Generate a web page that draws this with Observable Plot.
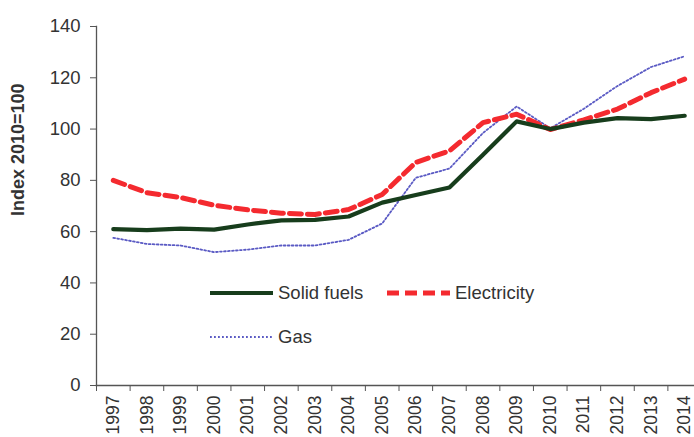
<!DOCTYPE html>
<html><head><meta charset="utf-8">
<script src="https://cdn.jsdelivr.net/npm/d3@7"></script>
<script src="https://cdn.jsdelivr.net/npm/@observablehq/plot@0.6"></script>
<style>
body{margin:0;background:#fff;font-family:"Liberation Sans",Arial,sans-serif;}
#wrap{position:relative;width:694px;height:437px;overflow:hidden;}
#wrap svg.legend{position:absolute;left:0;top:0;}
</style></head><body><div id="wrap"></div>
<script>
const years = [1997,1998,1999,2000,2001,2002,2003,2004,2005,2006,2007,2008,2009,2010,2011,2012,2013,2014];
const solidFuels = [61,60.6,61.2,60.8,62.8,64.4,64.6,65.9,71.3,74.3,77.2,90,103,100,102.5,104.3,103.9,105.2];
const electricity = [80,75.2,73.3,70.3,68.5,67.2,66.7,68.6,74.5,87,91.5,102.5,105.8,99.8,103.6,107.8,114.2,119.5];
const gas = [57.6,55.2,54.6,52,53,54.6,54.6,56.8,63.2,81,84.6,98.5,108.8,100.3,107.9,116.8,124.2,128.4];
const seriesNames = ["Solid fuels","Electricity","Gas"];
const yTicks = [0,20,40,60,80,100,120,140];
const yLabel = "Index 2010=100";

const styles = {
  "Solid fuels": {stroke:"#173d1c", strokeWidth:4.2, strokeDasharray:null},
  "Electricity": {stroke:"#f42a2f", strokeWidth:5, strokeDasharray:"12,6"},
  "Gas": {stroke:"#5a5ac4", strokeWidth:1.8, strokeDasharray:"1.8,2.2"}
};
const valuesBy = {"Solid fuels": solidFuels, "Electricity": electricity, "Gas": gas};
const rows = seriesNames.flatMap(s => years.map((y,i) => ({series:s, year:y, value:valuesBy[s][i]})));
const halfTicks = years.map(y => y - 0.5).concat([years[years.length-1] + 0.5]);

const font = '"Liberation Sans", Arial, sans-serif';
const lineMarks = ["Gas","Electricity","Solid fuels"].map(s => Plot.line(rows.filter(r => r.series === s), {
  x:"year", y:"value", stroke: styles[s].stroke, strokeWidth: styles[s].strokeWidth,
  strokeDasharray: styles[s].strokeDasharray, strokeLinejoin:"round"
}));

const chart = Plot.plot({
  width: 694, height: 437,
  marginLeft: 96, marginTop: 26, marginBottom: 52, marginRight: 0,
  style: {fontFamily: font, fontSize: "18.5px", color: "#333", background: "#fff", overflow: "visible"},
  x: {type: "linear", domain: [halfTicks[0], halfTicks[halfTicks.length-1]], range: [96, 701]},
  y: {domain: [0, 140]},
  marks: [
    Plot.frame({anchor:"left", stroke:"#555", strokeWidth:1.3}),
    Plot.frame({anchor:"bottom", stroke:"#555", strokeWidth:1.6}),
    Plot.axisY({ticks: yTicks, tickSize: 6, tickPadding: 10, label: null, stroke:"#555", fill:"#333"}),
    Plot.axisX({ticks: halfTicks, tickSize: 6, tickFormat: () => "", label: null, stroke:"#555"}),
    Plot.axisX({ticks: years, tickSize: 0, tickPadding: 10, tickRotate: -90, fontSize: 17.5, tickFormat: d => String(d), label: null, fill:"#333"}),
    Plot.text([yLabel], {frameAnchor:"left", rotate:-90, dx:-78, dy:10, fontWeight:"bold", fontSize:18, fill:"#333"}),
    ...lineMarks
  ]
});
const wrap = document.getElementById("wrap");
wrap.appendChild(chart);

// legend overlay (inside plot area, as in the reference)
const legendItems = [
  {name:"Solid fuels", x:210, y:293},
  {name:"Electricity", x:387, y:293},
  {name:"Gas", x:210, y:337}
];
const lg = d3.select(wrap).append("svg").attr("class","legend").attr("width",694).attr("height",437)
  .style("font-family", font).style("font-size","18.5px");
legendItems.forEach(it => {
  const st = styles[it.name];
  lg.append("line").attr("x1", it.x).attr("x2", it.x + 63).attr("y1", it.y).attr("y2", it.y)
    .attr("stroke", st.stroke).attr("stroke-width", st.strokeWidth)
    .attr("stroke-dasharray", st.strokeDasharray);
  lg.append("text").attr("x", it.x + 68).attr("y", it.y).attr("dy","0.35em").attr("fill","#333").text(it.name);
});
</script></body></html>
